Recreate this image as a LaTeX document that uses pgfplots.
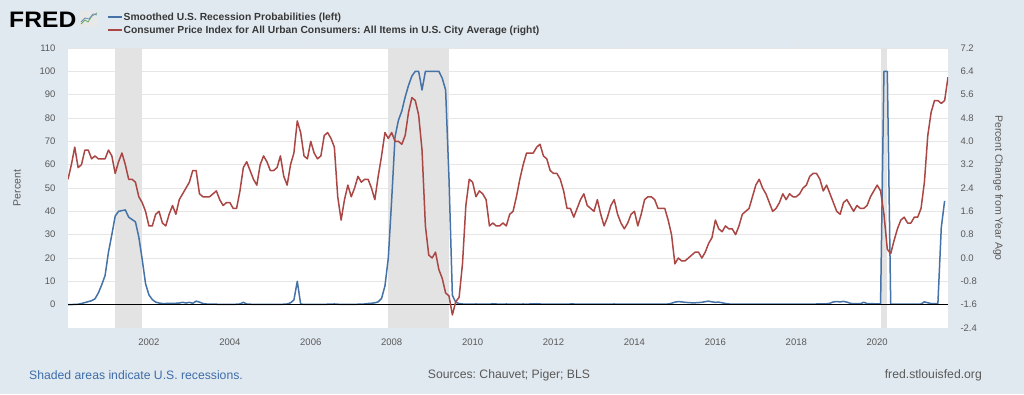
\documentclass[border=0pt]{standalone}
\usepackage{pgfplots}
\pgfplotsset{compat=1.18}
\usepackage{fontspec}
\setmainfont{Liberation Sans}
\definecolor{bg}{HTML}{E1E9F0}
\definecolor{fblue}{HTML}{4572A7}
\definecolor{fred}{HTML}{AA4643}
\definecolor{txt}{HTML}{595959}
\definecolor{recshade}{HTML}{E3E3E3}
\definecolor{gridc}{HTML}{E6E6E6}
\definecolor{notec}{HTML}{3E6CA8}
\frenchspacing
\begin{document}
\begin{tikzpicture}[x=1pt,y=1pt]
\fill[bg] (0,0) rectangle (1024,394);
\useasboundingbox (0,0) rectangle (1024,394);
% ---------------- left axis: recession probabilities
\begin{axis}[
  at={(68pt,66pt)}, anchor=south west, scale only axis,
  width=880pt, height=280pt,
  xmin=0, xmax=261, ymin=-10, ymax=110,
  axis background/.style={fill=white},
  axis line style={draw=none},
  ytick={0,10,...,110},
  yticklabels={0,10,20,30,40,50,60,70,80,90,100,110},
  ymajorgrids, grid style={gridc, line width=0.8pt},
  xtick={24,48,...,240},
  xticklabels={2002,2004,2006,2008,2010,2012,2014,2016,2018,2020},
  tick align=outside, major tick length=4pt,
  xtick style={draw=gridc, line width=0.8pt},
  ytick style={draw=none},
  tick label style={font=\fontsize{9.5}{11}\selectfont, text=txt},
  yticklabel style={xshift=-5pt},
  xticklabel style={yshift=-3pt},
  ylabel={Percent},
  ylabel style={at={(axis description cs:-0.058,0.5)}, anchor=center,
    font=\fontsize{10.5}{12}\selectfont, text=txt},
  line join=round,
]
\fill[recshade] (axis cs:14,-10) rectangle (axis cs:22,110);
\fill[recshade] (axis cs:95,-10) rectangle (axis cs:113,110);
\fill[recshade] (axis cs:241,-10) rectangle (axis cs:242.8,110);
\addplot[fblue, line width=1.5pt] coordinates {
(0,0.0)(1,0.05)(2,0.1)(3,0.2)(4,0.5)(5,0.9)(6,1.3)(7,1.7)(8,2.5)(9,5.0)(10,8.5)(11,12.5)
(12,22.5)(13,30.0)(14,38.0)(15,40.0)(16,40.3)(17,40.6)(18,37.5)(19,36.5)(20,35.5)(21,29.0)(22,19.5)(23,9.0)
(24,4.2)(25,2.2)(26,1.1)(27,0.7)(28,0.5)(29,0.5)(30,0.6)(31,0.5)(32,0.6)(33,0.7)(34,1.0)(35,0.7)
(36,1.0)(37,0.6)(38,1.5)(39,1.1)(40,0.5)(41,0.3)(42,0.2)(43,0.2)(44,0.2)(45,0.1)(46,0.1)(47,0.1)
(48,0.1)(49,0.1)(50,0.2)(51,0.3)(52,1.0)(53,0.3)(54,0.2)(55,0.1)(56,0.1)(57,0.1)(58,0.1)(59,0.1)
(60,0.1)(61,0.1)(62,0.1)(63,0.1)(64,0.2)(65,0.3)(66,0.8)(67,2.0)(68,10.0)(69,0.3)(70,0.1)(71,0.1)
(72,0.1)(73,0.1)(74,0.1)(75,0.1)(76,0.1)(77,0.2)(78,0.2)(79,0.3)(80,0.2)(81,0.1)(82,0.1)(83,0.1)
(84,0.1)(85,0.1)(86,0.2)(87,0.2)(88,0.3)(89,0.5)(90,0.6)(91,0.8)(92,1.2)(93,2.7)(94,8.0)(95,20.0)
(96,45.0)(97,72.0)(98,79.0)(99,83.0)(100,89.0)(101,94.0)(102,98.0)(103,100)(104,100)(105,92.0)(106,100)(107,100)
(108,100)(109,100)(110,100)(111,97.0)(112,92.0)(113,54.0)(114,4.0)(115,1.0)(116,0.5)(117,0.3)(118,0.2)(119,0.2)
(120,0.2)(121,0.3)(122,0.2)(123,0.2)(124,0.2)(125,0.2)(126,0.4)(127,0.3)(128,0.2)(129,0.2)(130,0.3)(131,0.2)
(132,0.2)(133,0.2)(134,0.2)(135,0.3)(136,0.2)(137,0.3)(138,0.3)(139,0.4)(140,0.3)(141,0.2)(142,0.2)(143,0.2)
(144,0.2)(145,0.2)(146,0.2)(147,0.2)(148,0.2)(149,0.3)(150,0.3)(151,0.2)(152,0.2)(153,0.2)(154,0.2)(155,0.2)
(156,0.2)(157,0.2)(158,0.2)(159,0.2)(160,0.2)(161,0.2)(162,0.3)(163,0.2)(164,0.2)(165,0.2)(166,0.2)(167,0.2)
(168,0.2)(169,0.2)(170,0.2)(171,0.2)(172,0.2)(173,0.2)(174,0.2)(175,0.2)(176,0.2)(177,0.2)(178,0.3)(179,0.6)
(180,1.1)(181,1.3)(182,1.2)(183,1.0)(184,0.9)(185,0.8)(186,0.8)(187,0.9)(188,1.0)(189,1.3)(190,1.5)(191,1.2)
(192,1.0)(193,1.1)(194,0.8)(195,0.5)(196,0.3)(197,0.2)(198,0.2)(199,0.2)(200,0.2)(201,0.2)(202,0.2)(203,0.2)
(204,0.2)(205,0.2)(206,0.2)(207,0.2)(208,0.2)(209,0.2)(210,0.2)(211,0.2)(212,0.2)(213,0.2)(214,0.2)(215,0.2)
(216,0.2)(217,0.2)(218,0.2)(219,0.2)(220,0.2)(221,0.2)(222,0.3)(223,0.3)(224,0.3)(225,0.4)(226,0.6)(227,1.2)
(228,1.3)(229,1.2)(230,1.4)(231,1.1)(232,0.6)(233,0.4)(234,0.5)(235,0.4)(236,1.0)(237,0.5)(238,0.4)(239,0.4)
(240,0.3)(241,0.4)(242,100)(243,100)(244,0.3)(245,0.2)(246,0.2)(247,0.2)(248,0.2)(249,0.2)(250,0.2)(251,0.2)
(252,0.2)(253,0.3)(254,1.2)(255,0.8)(256,0.5)(257,0.4)(258,0.4)(259,33.0)(260,44.5)
};
\addplot[black, line width=1.4pt] coordinates {(0,0) (261,0)};
\end{axis}
% ---------------- right axis: CPI
\begin{axis}[
  at={(68pt,66pt)}, anchor=south west, scale only axis,
  width=880pt, height=280pt,
  xmin=0, xmax=261, ymin=-2.4, ymax=7.2,
  axis y line*=right, axis x line=none,
  axis line style={draw=none},
  ytick={-2.4,-1.6,-0.8,0,0.8,1.6,2.4,3.2,4.0,4.8,5.6,6.4,7.2},
  yticklabels={-2.4,-1.6,-0.8,0.0,0.8,1.6,2.4,3.2,4.0,4.8,5.6,6.4,7.2},
  ytick style={draw=none},
  tick label style={font=\fontsize{9.5}{11}\selectfont, text=txt},
  yticklabel style={xshift=9pt},
  ylabel={Percent Change from Year Ago},
  ylabel style={at={(axis description cs:1.0568,0.5)}, anchor=center, rotate=180,
    font=\fontsize{10.5}{12}\selectfont, text=txt},
  legend style={at={(axis description cs:0.0443,1.132)}, anchor=north west,
    draw=none, fill=none, inner sep=0pt,
    font=\bfseries\fontsize{10.3}{12}\selectfont, text=black!78,
    nodes={inner sep=1pt, text height=8pt, text depth=2pt},
    row sep=1pt,
    /tikz/every even column/.append style={column sep=0pt}},
  legend cell align=left,
  legend image code/.code={\draw[#1, line width=1.5pt] (0pt,0pt) -- (14pt,0pt);},
  line join=round,
]
\addlegendimage{fblue}
\addlegendentry{Smoothed U.S. Recession Probabilities (left)}
\addplot[fred, line width=1.5pt] coordinates {
(0,2.7)(1,3.2)(2,3.8)(3,3.1)(4,3.2)(5,3.7)(6,3.7)(7,3.4)(8,3.5)(9,3.4)(10,3.4)(11,3.4)
(12,3.7)(13,3.5)(14,2.9)(15,3.3)(16,3.6)(17,3.2)(18,2.7)(19,2.7)(20,2.6)(21,2.1)(22,1.9)(23,1.6)
(24,1.1)(25,1.1)(26,1.5)(27,1.6)(28,1.2)(29,1.1)(30,1.5)(31,1.8)(32,1.5)(33,2.0)(34,2.2)(35,2.4)
(36,2.6)(37,3.0)(38,3.0)(39,2.2)(40,2.1)(41,2.1)(42,2.1)(43,2.2)(44,2.3)(45,2.0)(46,1.8)(47,1.9)
(48,1.9)(49,1.7)(50,1.7)(51,2.3)(52,3.1)(53,3.3)(54,3.0)(55,2.7)(56,2.5)(57,3.2)(58,3.5)(59,3.3)
(60,3.0)(61,3.0)(62,3.1)(63,3.5)(64,2.8)(65,2.5)(66,3.2)(67,3.6)(68,4.7)(69,4.3)(70,3.5)(71,3.4)
(72,4.0)(73,3.6)(74,3.4)(75,3.5)(76,4.2)(77,4.3)(78,4.1)(79,3.8)(80,2.1)(81,1.3)(82,2.0)(83,2.5)
(84,2.1)(85,2.4)(86,2.8)(87,2.6)(88,2.7)(89,2.7)(90,2.4)(91,2.0)(92,2.8)(93,3.5)(94,4.3)(95,4.1)
(96,4.3)(97,4.0)(98,4.0)(99,3.9)(100,4.2)(101,5.0)(102,5.5)(103,5.4)(104,4.9)(105,3.7)(106,1.1)(107,0.1)
(108,0.0)(109,0.2)(110,-0.4)(111,-0.7)(112,-1.2)(113,-1.3)(114,-1.95)(115,-1.5)(116,-1.35)(117,-0.2)(118,1.8)(119,2.7)
(120,2.6)(121,2.1)(122,2.3)(123,2.2)(124,2.0)(125,1.1)(126,1.2)(127,1.1)(128,1.1)(129,1.2)(130,1.1)(131,1.5)
(132,1.6)(133,2.1)(134,2.7)(135,3.2)(136,3.6)(137,3.6)(138,3.6)(139,3.8)(140,3.9)(141,3.5)(142,3.4)(143,3.0)
(144,2.9)(145,2.9)(146,2.7)(147,2.3)(148,1.7)(149,1.7)(150,1.4)(151,1.7)(152,2.0)(153,2.2)(154,1.8)(155,1.7)
(156,1.6)(157,2.0)(158,1.5)(159,1.1)(160,1.4)(161,1.8)(162,2.0)(163,1.5)(164,1.2)(165,1.0)(166,1.2)(167,1.5)
(168,1.6)(169,1.1)(170,1.5)(171,2.0)(172,2.1)(173,2.1)(174,2.0)(175,1.7)(176,1.7)(177,1.7)(178,1.3)(179,0.8)
(180,-0.2)(181,0.0)(182,-0.1)(183,-0.1)(184,0.0)(185,0.1)(186,0.2)(187,0.2)(188,0.0)(189,0.2)(190,0.5)(191,0.7)
(192,1.3)(193,1.0)(194,0.9)(195,1.1)(196,1.0)(197,1.0)(198,0.8)(199,1.1)(200,1.5)(201,1.6)(202,1.7)(203,2.1)
(204,2.5)(205,2.7)(206,2.4)(207,2.2)(208,1.9)(209,1.6)(210,1.7)(211,1.9)(212,2.2)(213,2.0)(214,2.2)(215,2.1)
(216,2.1)(217,2.2)(218,2.4)(219,2.5)(220,2.8)(221,2.9)(222,2.9)(223,2.7)(224,2.3)(225,2.5)(226,2.2)(227,1.9)
(228,1.6)(229,1.5)(230,1.9)(231,2.0)(232,1.8)(233,1.6)(234,1.8)(235,1.7)(236,1.7)(237,1.8)(238,2.1)(239,2.3)
(240,2.5)(241,2.3)(242,1.5)(243,0.3)(244,0.15)(245,0.6)(246,1.0)(247,1.3)(248,1.4)(249,1.2)(250,1.2)(251,1.4)
(252,1.4)(253,1.7)(254,2.6)(255,4.2)(256,5.0)(257,5.4)(258,5.4)(259,5.3)(260,5.4)(261,6.2)
};
\addlegendentry{Consumer Price Index for All Urban Consumers: All Items in U.S. City Average (right)}
\end{axis}
% ---------------- header logo
\node[anchor=base west, inner sep=0pt, font=\bfseries\fontsize{22.4}{24}\selectfont, xscale=1.1] at (9,366) {FRED};
\fill[gray!18] (80,367) rectangle (98,383);
\draw[green!45!black!60, line width=0.8pt] (81,370) -- (85,374) -- (88,372) -- (92,378) -- (97,381);
\draw[fblue!80, line width=0.8pt] (81,372) -- (85,376) -- (89,375) -- (93,380) -- (97,379);
% ---------------- footer
\node[anchor=west, inner sep=0pt, text=notec, font=\fontsize{12.2}{14}\selectfont] at (29,19) {Shaded areas indicate U.S. recessions.};
\node[anchor=center, inner sep=0pt, text=txt, font=\fontsize{12.2}{14}\selectfont] at (509,19) {Sources: Chauvet; Piger; BLS};
\node[anchor=east, inner sep=0pt, text=txt, font=\fontsize{12.2}{14}\selectfont] at (982,19) {fred.stlouisfed.org};
\end{tikzpicture}
\end{document}
